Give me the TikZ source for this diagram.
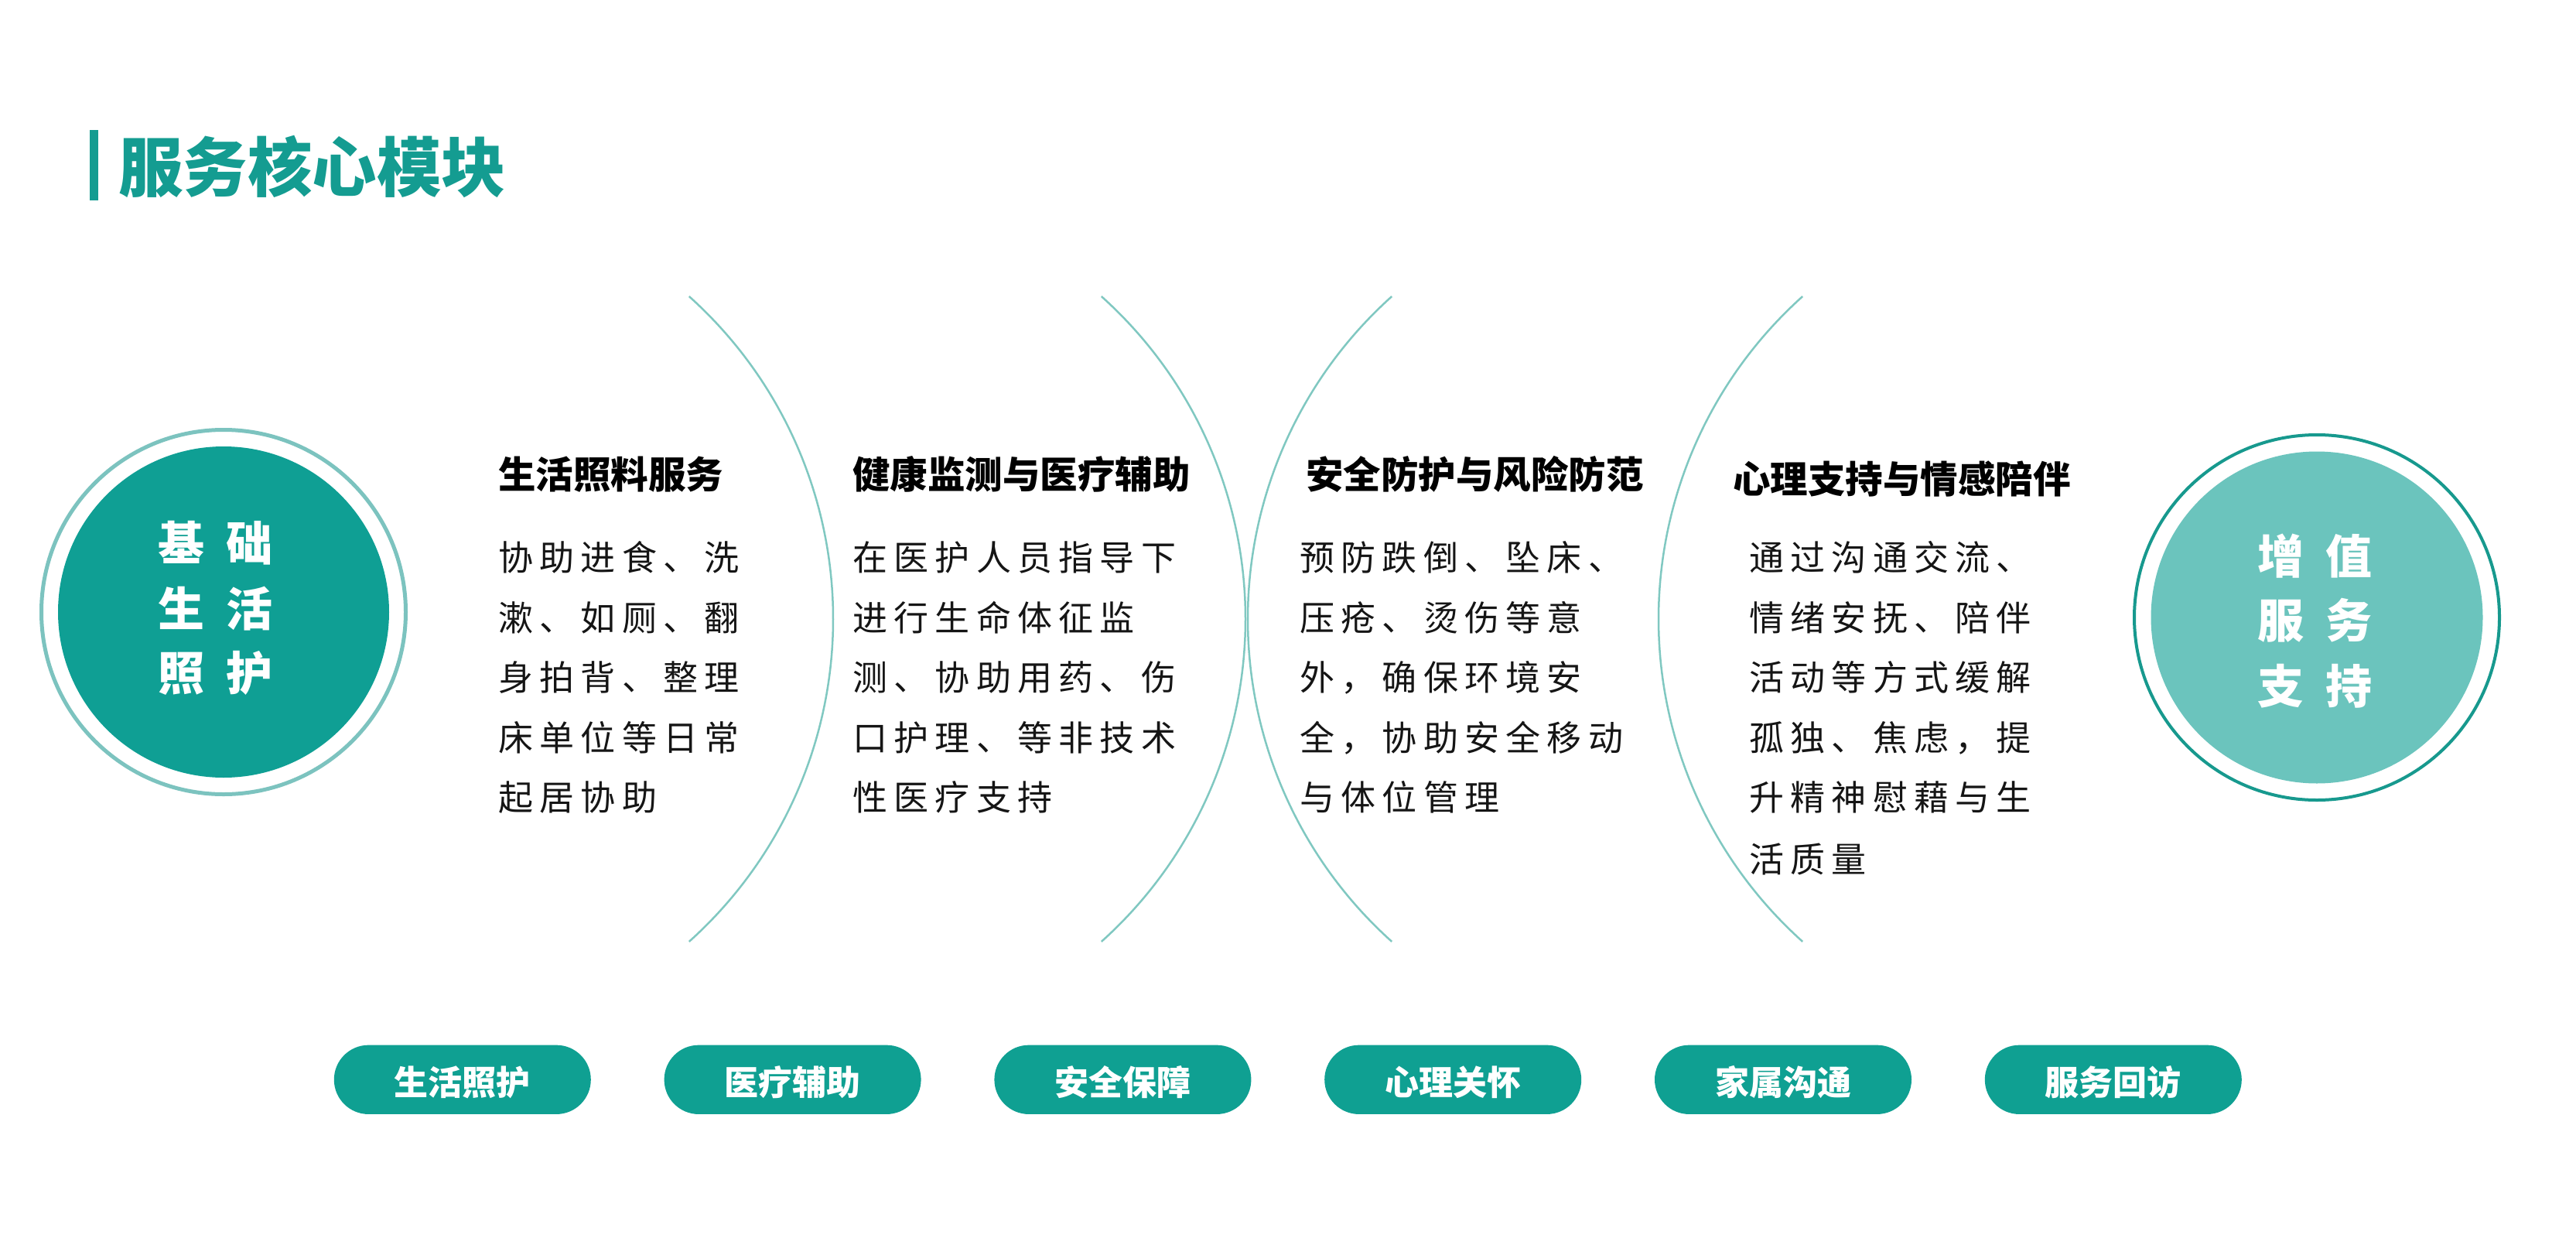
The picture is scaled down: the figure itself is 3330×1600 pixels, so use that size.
\documentclass[tikz,border=0pt]{standalone}
\usepackage{fontspec}
\setmainfont{Noto Sans CJK SC}
\definecolor{tealtitle}{HTML}{149C91}
\definecolor{pillteal}{HTML}{0FA092}
\definecolor{coredark}{HTML}{0F9F94}
\definecolor{ringlight}{HTML}{7CC3BF}
\definecolor{corelight}{HTML}{6BC4BD}
\definecolor{ringdark}{HTML}{17998E}
\definecolor{arclight}{HTML}{80C8C1}
\definecolor{bodyblack}{HTML}{151515}
\newlength\cpitch
\setlength\cpitch{53.3pt}
\def\myspx#1{\ifx\relax#1\else\hbox to\cpitch{#1\hss}\expandafter\myspx\fi}
\newcommand\bodyline[1]{\myspx#1\relax}
\tikzset{
  arcline/.style={draw=arclight, line width=2.5pt},
  headtxt/.style={anchor=base west, inner sep=0, text=black, font=\fontsize{48.5}{48.5}\selectfont\bfseries},
  bodytxt/.style={anchor=base west, inner sep=0, text=bodyblack, font=\fontsize{45}{45}\selectfont},
  circtxt/.style={anchor=base, inner sep=0, text=white, font=\fontsize{60}{60}\selectfont\bfseries},
  pill/.style={rectangle, rounded corners=44.6pt, fill=pillteal, minimum width=332pt, minimum height=89.3pt, inner sep=0},
  pilltxt/.style={anchor=base, inner sep=0, text=white, font=\fontsize{44}{44}\selectfont\bfseries}
}
\begin{document}
\begin{tikzpicture}[x=1pt,y=-1pt]
\path[use as bounding box, fill=white] (0,0) rectangle (3330,1600);

% title
\node (bar) [anchor=north west, fill=tealtitle, minimum width=11pt, minimum height=91pt, inner sep=0] at (116,168) {};
\node (title) [anchor=base west, inner sep=0, text=tealtitle, font=\fontsize{83.5}{83.5}\selectfont\bfseries] at (153,247) {服务核心模块};

% left circle
\node (lring) [circle, draw=ringlight, line width=5pt, minimum size=471pt, inner sep=0] at (289,791) {};
\node (lcore) [circle, fill=coredark, minimum size=428pt, inner sep=0] at (289,791) {};
\node (l11) [circtxt] at (234.5,724.7) {基};
\node (l12) [circtxt] at (322.5,724.7) {础};
\node (l21) [circtxt] at (234.5,809) {生};
\node (l22) [circtxt] at (322.5,809) {活};
\node (l31) [circtxt] at (234.5,892.4) {照};
\node (l32) [circtxt] at (322.5,892.4) {护};

% right circle
\node (rring) [circle, draw=ringdark, line width=4pt, minimum size=472pt, inner sep=0] at (2995,798) {};
\node (rcore) [circle, fill=corelight, minimum size=429pt, inner sep=0] at (2995,798) {};
\node (r11) [circtxt] at (2948,741.4) {增};
\node (r12) [circtxt] at (3036.5,741.4) {值};
\node (r21) [circtxt] at (2948,824.4) {服};
\node (r22) [circtxt] at (3036.5,824.4) {务};
\node (r31) [circtxt] at (2948,909) {支};
\node (r32) [circtxt] at (3036.5,909) {持};

% arcs
\draw[arcline] (517,800) ++(48.12:560pt) arc[start angle=48.12, end angle=-48.12, radius=560pt];
\draw[arcline] (1050,800) ++(48.12:560pt) arc[start angle=48.12, end angle=-48.12, radius=560pt];
\draw[arcline] (2173,800) ++(131.88:560pt) arc[start angle=131.88, end angle=228.12, radius=560pt];
\draw[arcline] (2704,800) ++(131.88:560pt) arc[start angle=131.88, end angle=228.12, radius=560pt];

% headings
\node (h1) [headtxt] at (644,631.5) {生活照料服务};
\node (h2) [headtxt] at (1102,631.5) {健康监测与医疗辅助};
\node (h3) [headtxt] at (1688,631.5) {安全防护与风险防范};
\node (h4) [headtxt] at (2240,637) {心理支持与情感陪伴};

% column 1
\node (c1a) [bodytxt] at (644,737.5) {\bodyline{协助进食、洗}};
\node (c1b) [bodytxt] at (644,815) {\bodyline{漱、如厕、翻}};
\node (c1c) [bodytxt] at (644,892.5) {\bodyline{身拍背、整理}};
\node (c1d) [bodytxt] at (644,970) {\bodyline{床单位等日常}};
\node (c1e) [bodytxt] at (644,1047.5) {\bodyline{起居协助}};

% column 2
\node (c2a) [bodytxt] at (1102,737.5) {\bodyline{在医护人员指导下}};
\node (c2b) [bodytxt] at (1102,815) {\bodyline{进行生命体征监}};
\node (c2c) [bodytxt] at (1102,892.5) {\bodyline{测、协助用药、伤}};
\node (c2d) [bodytxt] at (1102,970) {\bodyline{口护理、等非技术}};
\node (c2e) [bodytxt] at (1102,1047.5) {\bodyline{性医疗支持}};

% column 3
\node (c3a) [bodytxt] at (1680,737.5) {\bodyline{预防跌倒、坠床、}};
\node (c3b) [bodytxt] at (1680,815) {\bodyline{压疮、烫伤等意}};
\node (c3c) [bodytxt] at (1680,892.5) {\bodyline{外，确保环境安}};
\node (c3d) [bodytxt] at (1680,970) {\bodyline{全，协助安全移动}};
\node (c3e) [bodytxt] at (1680,1047.5) {\bodyline{与体位管理}};

% column 4
\node (c4a) [bodytxt] at (2261,737.5) {\bodyline{通过沟通交流、}};
\node (c4b) [bodytxt] at (2261,815) {\bodyline{情绪安抚、陪伴}};
\node (c4c) [bodytxt] at (2261,892.5) {\bodyline{活动等方式缓解}};
\node (c4d) [bodytxt] at (2261,970) {\bodyline{孤独、焦虑，提}};
\node (c4e) [bodytxt] at (2261,1047.5) {\bodyline{升精神慰藉与生}};
\node (c4f) [bodytxt] at (2261,1127.5) {\bodyline{活质量}};

% pills
\foreach \i/\t in {0/生活照护,1/医疗辅助,2/安全保障,3/心理关怀,4/家属沟通,5/服务回访}{
  \node (p\i) [pill] at (597.8+426.8*\i,1395.3) {};
  \node (pt\i) [pilltxt] at (597.8+426.8*\i,1415.7) {\t};
}
\end{tikzpicture}
\end{document}
